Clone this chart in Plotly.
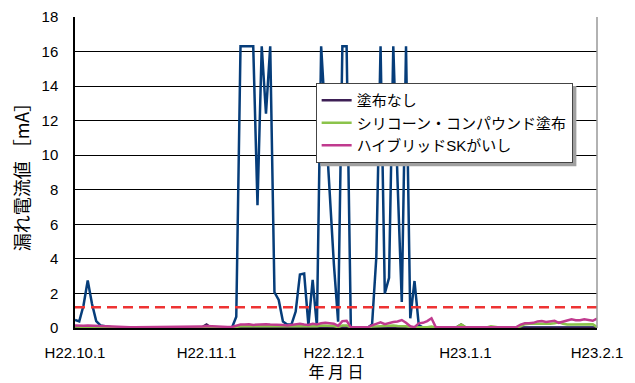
import pandas as pd
import plotly.graph_objects as go

# daily dates H22.10.1 .. H23.2.1
dates = pd.date_range("2010-10-01", "2011-02-01", freq="D")

# unlabeled (blue) series, mA
blue = [0.46, 0.38, 1.3, 2.75, 1.4, 0.4, 0.15, 0.1, 0.05, 0.03,
        0.03, 0.03, 0.03, 0.03, 0.03, 0.03, 0.03, 0.03, 0.03, 0.03,
        0.03, 0.03, 0.03, 0.03, 0.03, 0.03, 0.03, 0.03, 0.03, 0.03,
        0.03, 0.03, 0.03, 0.03, 0.03, 0.03, 0.03, 0.03, 0.65, 16.3,
        16.3, 16.3, 16.3, 7.1, 16.3, 12.4, 16.3, 2.07, 1.62, 0.37,
        0.2, 0.2, 0.95, 3.1, 3.15, 0.17, 2.78, 0.1, 16.3, 12.1,
        7.9, 3.7, 0.37, 16.3, 16.3, 0.03, 0.03, 0.03, 0.03, 0.03,
        0.2, 4.1, 16.3, 2.0, 2.9, 16.3, 8.5, 1.5, 16.3, 0.56,
        2.72, 0.17, 0.03, 0.03, 0.03, 0.03, 0.03, 0.03, 0.03, 0.03,
        0.03, 0.03, 0.03, 0.03, 0.03, 0.03, 0.03, 0.03, 0.03, 0.03,
        0.03, 0.03, 0.03, 0.03, 0.03, 0.03, 0.03, 0.03, 0.03, 0.03,
        0.03, 0.03, 0.03, 0.03, 0.03, 0.03, 0.03, 0.03, 0.03, 0.03,
        0.03, 0.03, 0.03, 0.03]

# 塗布なし
none_coat = [0.02] * 30 + [0.05, 0.2, 0.03] + [0.02] * 57 + [0.05, 0.2, 0.03] + [0.02] * 31

# シリコーン・コンパウンド塗布
silicone = [0.08, 0.08, 0.08, 0.08, 0.08, 0.08, 0.06, 0.05, 0.04, 0.03,
            0.03, 0.03, 0.03, 0.03, 0.03, 0.03, 0.03, 0.03, 0.03, 0.03,
            0.03, 0.03, 0.03, 0.03, 0.03, 0.03, 0.03, 0.03, 0.03, 0.03,
            0.05, 0.08, 0.06, 0.04, 0.03, 0.03, 0.03, 0.03, 0.06, 0.1,
            0.1, 0.12, 0.1, 0.1, 0.1, 0.12, 0.1, 0.1, 0.1, 0.08,
            0.08, 0.08, 0.1, 0.12, 0.1, 0.1, 0.12, 0.1, 0.15, 0.15,
            0.15, 0.12, 0.05, 0.15, 0.15, 0.03, 0.03, 0.03, 0.03, 0.03,
            0.08, 0.1, 0.12, 0.1, 0.12, 0.15, 0.12, 0.12, 0.1, 0.06,
            0.05, 0.04, 0.03, 0.05, 0.08, 0.03, 0.03, 0.03, 0.03, 0.03,
            0.05, 0.2, 0.05, 0.03, 0.03, 0.03, 0.03, 0.03, 0.1, 0.05,
            0.03, 0.03, 0.03, 0.03, 0.03, 0.1, 0.22, 0.25, 0.25, 0.24,
            0.25, 0.22, 0.25, 0.28, 0.33, 0.25, 0.2, 0.2, 0.2, 0.2,
            0.22, 0.2, 0.22, 0.05]

# ハイブリッドSKがいし
hybrid = [0.15, 0.13, 0.13, 0.14, 0.13, 0.12, 0.1, 0.08, 0.06, 0.05,
          0.05, 0.05, 0.05, 0.05, 0.05, 0.05, 0.05, 0.05, 0.05, 0.05,
          0.05, 0.05, 0.05, 0.05, 0.05, 0.05, 0.05, 0.05, 0.05, 0.05,
          0.08, 0.12, 0.1, 0.08, 0.06, 0.06, 0.06, 0.06, 0.15, 0.2,
          0.2, 0.22, 0.18, 0.2, 0.18, 0.22, 0.2, 0.2, 0.18, 0.17,
          0.15, 0.17, 0.2, 0.25, 0.2, 0.18, 0.25, 0.2, 0.27, 0.3,
          0.28, 0.25, 0.12, 0.4, 0.42, 0.05, 0.04, 0.04, 0.04, 0.04,
          0.15, 0.22, 0.33, 0.22, 0.3, 0.35, 0.38, 0.46, 0.3, 0.1,
          0.05, 0.27, 0.3, 0.4, 0.56, 0.05, 0.05, 0.05, 0.05, 0.05,
          0.05, 0.08, 0.05, 0.05, 0.05, 0.05, 0.05, 0.05, 0.07, 0.05,
          0.05, 0.05, 0.05, 0.05, 0.05, 0.2, 0.27, 0.27, 0.3, 0.38,
          0.4, 0.35, 0.38, 0.42, 0.3, 0.38, 0.45, 0.5, 0.45, 0.45,
          0.5, 0.48, 0.42, 0.55]

threshold = [1.2, 1.2]
threshold_x = ["2010-10-01", "2011-02-01"]

tick_vals = ["2010-10-01", "2010-11-01", "2010-12-01", "2011-01-01", "2011-02-01"]
tick_text = ["H22.10.1", "H22.11.1", "H22.12.1", "H23.1.1", "H23.2.1"]

FONT = "Liberation Sans, Arial, Noto Sans CJK JP, sans-serif"
JFONT = "Noto Sans CJK JP, sans-serif"

fig = go.Figure()
fig.add_trace(go.Scatter(x=dates, y=blue, mode="lines", showlegend=False,
                         line=dict(color="#063d7a", width=2.5)))
fig.add_trace(go.Scatter(x=threshold_x, y=threshold, mode="lines", showlegend=False,
                         line=dict(color="#ee3333", width=2.5, dash="10px,6px")))
fig.add_trace(go.Scatter(x=dates, y=none_coat, mode="lines", name="塗布なし",
                         line=dict(color="#3d1f55", width=2.5)))
fig.add_trace(go.Scatter(x=dates, y=silicone, mode="lines", name="シリコーン・コンパウンド塗布",
                         line=dict(color="#8bc34a", width=2.5)))
fig.add_trace(go.Scatter(x=dates, y=hybrid, mode="lines", name="ハイブリッドSKがいし",
                         line=dict(color="#c03a8e", width=2.5)))

# page body has an 8px margin: size and margins compensate for it
fig.update_layout(
    width=627, height=375,
    margin=dict(l=67, r=38, t=9, b=55),
    paper_bgcolor="white", plot_bgcolor="white",
    font=dict(family=FONT, size=15, color="black"),
    legend=dict(x=0.461, y=0.788, xanchor="left", yanchor="top",
                bgcolor="white", bordercolor="#444444", borderwidth=1,
                font=dict(family=FONT, size=15, color="black"),
                itemwidth=30, tracegroupgap=0),
    shapes=[
        dict(type="line", xref="paper", yref="paper", x0=1, x1=1, y0=0, y1=1,
             line=dict(color="#999999", width=1.5)),
        # legend drop shadow
        dict(type="rect", xref="paper", yref="paper", layer="above",
             x0=0.470, x1=0.9605, y0=0.520, y1=0.778,
             fillcolor="#a0a0a0", line=dict(width=0)),
    ],
)
fig.update_xaxes(
    range=["2010-10-01", "2011-02-01"], tickvals=tick_vals, ticktext=tick_text,
    showgrid=False, showline=True, linecolor="black", linewidth=1.5,
    ticks="", ticklabelstandoff=10, tickfont=dict(size=15), automargin=False,
    title=dict(text="年 月 日", font=dict(family=JFONT, size=16), standoff=6),
)
fig.update_yaxes(
    range=[0, 18], tickvals=[0, 2, 4, 6, 8, 10, 12, 14, 16, 18],
    showgrid=True, gridcolor="black", gridwidth=1,
    showline=True, linecolor="black", linewidth=1.5, zeroline=False,
    ticks="", ticklabelstandoff=12, tickfont=dict(size=15), automargin=False,
    title=dict(text="漏れ電流値 ［mA］", font=dict(family=JFONT, size=18), standoff=10),
)

fig.write_html("out.html")
